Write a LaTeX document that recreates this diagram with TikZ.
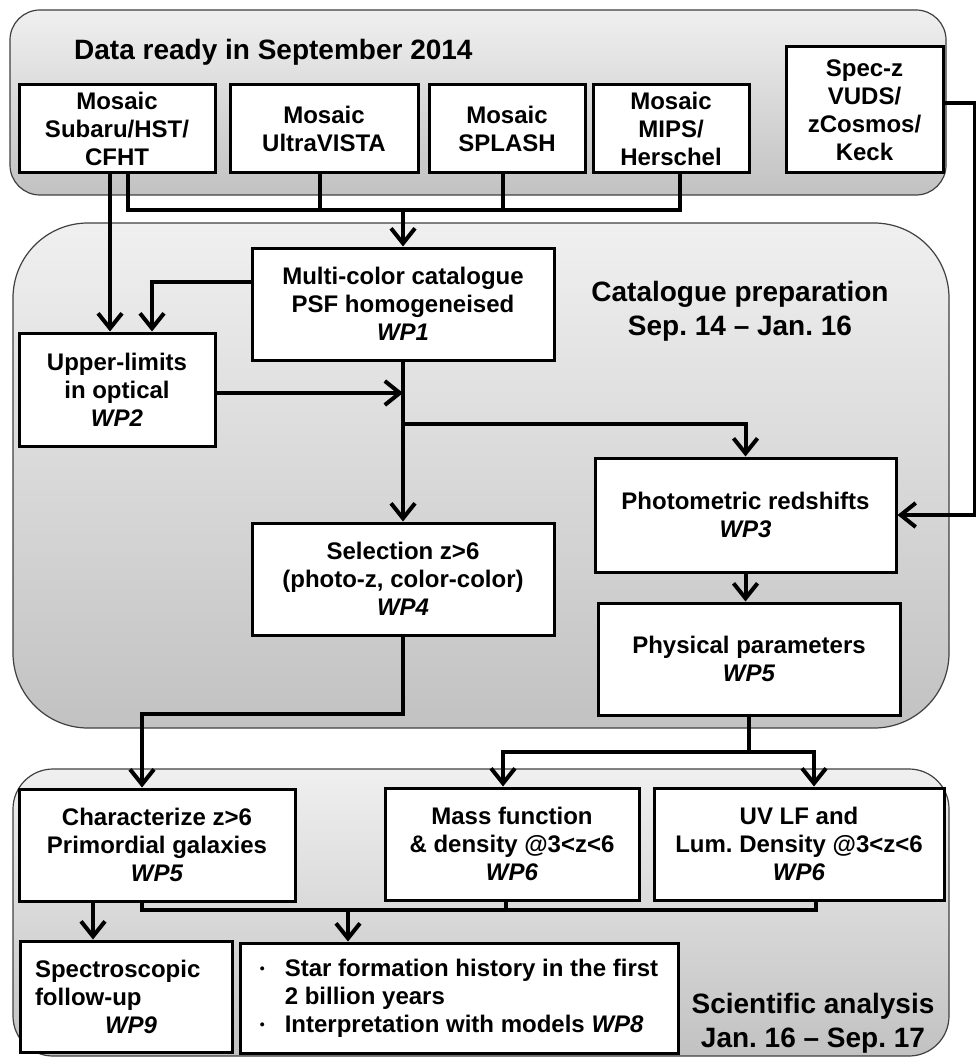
\documentclass[tikz,border=0pt]{standalone}
\usepackage{fontspec}
\setmainfont{Liberation Sans}
\usetikzlibrary{arrows.meta}
\frenchspacing

\begin{document}
\begin{tikzpicture}[
        x = 1pt, y = -1pt,
        panel/.style = {draw=black!75, line width=1.2pt, top color=black!6, bottom color=black!24},
        wpbox/.style = {draw, line width=3pt, fill=white, align=center, inner sep=0pt,
          font=\fontsize{24}{28}\selectfont\bfseries},
        heading/.style = {align=center, inner sep=0pt, font=\fontsize{28}{34}\selectfont\bfseries},
        conn/.style = {line width=4pt},
        arr/.style = {conn, -{Straight Barb[length=15pt,width=24pt]}}]
      \useasboundingbox (0,0) rectangle (976,1059);
      \draw[panel, rounded corners=30pt] (10,10) rectangle (946,195);
      \draw[panel, rounded corners=75pt] (13,223) rectangle (949,728);
      \draw[panel, rounded corners=40pt] (13,769) rectangle (949,1056);
      \node[heading, anchor=base west] (dataready) at (74,60) {Data ready in September 2014};
      \node[heading] (catprep) at (740,311) {Catalogue preparation\\Sep. 14 – Jan. 16};
      \node[heading] (sciana) at (813,1023) {Scientific analysis\\Jan. 16 – Sep. 17};
      \node[wpbox, minimum width=196pt, minimum height=88pt] (subaru) at (117,129) {Mosaic\\Subaru/HST/\\CFHT};
      \node[wpbox, minimum width=188pt, minimum height=88pt] (ultravista) at (324,129) {Mosaic\\UltraVISTA};
      \node[wpbox, minimum width=156pt, minimum height=88pt] (splash) at (507,129) {Mosaic\\SPLASH};
      \node[wpbox, minimum width=156pt, minimum height=88pt] (mips) at (671,129) {Mosaic\\MIPS/\\Herschel};
      \node[wpbox, minimum width=157pt, minimum height=126pt] (specz) at (864.5,110) {Spec-z\\VUDS/\\zCosmos/\\Keck};
      \node[wpbox, minimum width=302pt, minimum height=112pt] (catalogue) at (403,304) {Multi-color catalogue\\PSF homogeneised\\\textit{WP1}};
      \node[wpbox, minimum width=196pt, minimum height=113pt] (upperlim) at (117,389.5) {Upper-limits\\in optical\\\textit{WP2}};
      \node[wpbox, minimum width=301pt, minimum height=114pt] (photoz) at (745.5,515) {Photometric redshifts\\\textit{WP3}};
      \node[wpbox, minimum width=302pt, minimum height=112pt] (selection) at (403,579) {Selection z>6\\(photo-z, color-color)\\\textit{WP4}};
      \node[wpbox, minimum width=302pt, minimum height=112pt] (physpar) at (749,659) {Physical parameters\\\textit{WP5}};
      \node[wpbox, minimum width=276pt, minimum height=112pt] (primordial) at (157,845) {Characterize z>6\\Primordial galaxies\\\textit{WP5}};
      \node[wpbox, minimum width=254pt, minimum height=112pt] (massfn) at (512,844) {Mass function\\\& density @3<z<6\\\textit{WP6}};
      \node[wpbox, minimum width=290pt, minimum height=112pt] (uvlf) at (799,844) {UV LF and\\Lum. Density @3<z<6\\\textit{WP6}};
      \node[wpbox, align=left, text width=182pt, minimum width=212pt, minimum height=111pt] (spectro) at (126,996.5)
        {Spectroscopic\\follow-up\\\hspace*{70pt}\textit{WP9}};
      \node[wpbox, align=left, minimum width=438pt, minimum height=110pt] (sfh) at (459,998)
        {\makebox[25pt][l]{\raisebox{3pt}{\fontsize{14}{14}\selectfont\textbullet}}Star formation history in the first\\
         \hspace*{25pt}2 billion years\\
         \makebox[25pt][l]{\raisebox{3pt}{\fontsize{14}{14}\selectfont\textbullet}}Interpretation with models \textit{WP8}};
      \coordinate (bus) at (403,210);
      \coordinate (split) at (403,424);
      \coordinate (fork) at (749,752);
      \coordinate (merge) at (348,910);
      \draw[arr] ([xshift=-7pt]subaru.south) -- ([xshift=-7pt]subaru.south |- upperlim.north);
      \draw[conn] ([xshift=11pt]subaru.south) |- (bus) -| ([xshift=9pt]mips.south);
      \draw[conn] ([xshift=-4pt]ultravista.south) -- ([xshift=-4pt]ultravista.south |- bus);
      \draw[conn] ([xshift=-4pt]splash.south) -- ([xshift=-4pt]splash.south |- bus);
      \draw[arr] (bus) -- (catalogue.north);
      \draw[arr] ([yshift=22pt]catalogue.west) -| ([xshift=35pt]upperlim.north);
      \draw[arr] ([yshift=-3.5pt]upperlim.east) -- ([yshift=-3.5pt]upperlim.east -| catalogue.south);
      \draw[arr] (catalogue.south) -- (selection.north);
      \draw[arr] (split) -| (photoz.north);
      \draw[arr] ([yshift=7pt]specz.east) -- ++(30,0) |- (photoz.east);
      \draw[arr] (photoz.south) -- (photoz.south |- physpar.north);
      \draw[arr] (selection.south) -- ++(0,77) -| ([xshift=-15pt]primordial.north);
      \draw[conn] (physpar.south) -- (fork);
      \draw[arr] (fork) -| ([xshift=-9pt]massfn.north);
      \draw[arr] (fork) -| ([xshift=15pt]uvlf.north);
      \draw[arr] ([xshift=-64pt]primordial.south) -- ([xshift=-64pt]primordial.south |- spectro.north);
      \draw[conn] ([xshift=-15pt]primordial.south) |- (merge) -| ([xshift=17pt]uvlf.south);
      \draw[conn] ([xshift=-6pt]massfn.south) -- ([xshift=-6pt]massfn.south |- merge);
      \draw[arr] (merge) -- (merge |- sfh.north);
    \end{tikzpicture}
\end{document}
